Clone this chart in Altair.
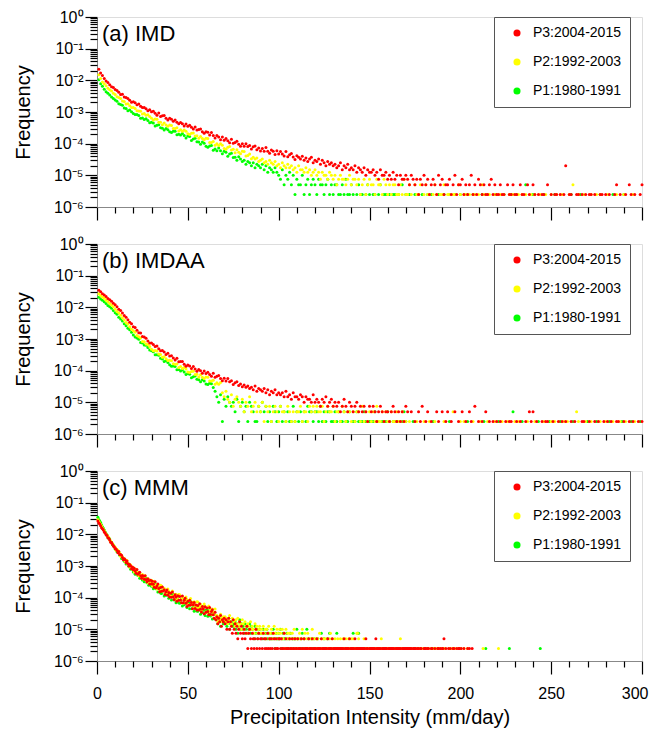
import altair as alt
import pandas as pd

# ---------------- data (log10 frequency for the smooth part, counts of the 2.5e-6 unit for the tail) -------------
LEVEL = 2.5e-6
periods = ["P3:2004-2015", "P2:1992-2003", "P1:1980-1991"]
colors = ["#ff0000", "#ffff00", "#00ff00"]

# ---- (a) IMD, 1 mm bins starting at 1 ----
imd_p3_dense = [-1.65,-1.77,-1.85,-1.94,-2.02,-2.07,-2.14,-2.20,-2.23,-2.29,
 -2.32,-2.38,-2.45,-2.44,-2.53,-2.54,-2.57,-2.63,-2.69,-2.68,
 -2.71,-2.77,-2.75,-2.82,-2.86,-2.86,-2.90,-2.96,-2.93,-2.99,
 -2.98,-3.04,-3.10,-3.03,-3.14,-3.12,-3.11,-3.20,-3.25,-3.20,
 -3.23,-3.29,-3.25,-3.32,-3.37,-3.33,-3.37,-3.44,-3.38,-3.45,
 -3.42,-3.48,-3.54,-3.47,-3.57,-3.55,-3.54,-3.62,-3.67,-3.62,
 -3.64,-3.73,-3.65,-3.74,-3.82,-3.74,-3.79,-3.88,-3.79,-3.89,
 -3.84,-3.91,-3.97,-3.86,-3.99,-3.96,-3.92,-4.02,-4.08,-4.00,
 -4.08,-4.00,-4.09,-4.06,-4.17,-4.10,-4.07,-4.19,-4.14,-4.23,
 -4.15,-4.24,-4.12,-4.24,-4.30,-4.20,-4.24,-4.34,-4.22,-4.33,
 -4.25,-4.33,-4.39,-4.25,-4.41,-4.35,-4.31,-4.42,-4.50,-4.38]
imd_p3_tail = [15,13,16,12,14,11,13,15,10,12, 11,13,9,12,10,8,11,9,10,8,
 9,7,8,10,6,8,7,9,6,7, 6,8,5,7,6,5,7,4,6,5, 5,6,4,5,3,6,4,4,5,3,
 4,3,5,3,4,2,4,3,3,4, 3,2,4,3,2,3,1,3,2,4, 2,3,1,2,3,2,1,4,2,3,
 1,2,2,3,1,2,4,1,2,2, 3,1,2,1,2,4,1,2,1,3, 2,1,2,1,1,2,3,1,2,1,
 1,2,1,1,0,2,1,1,2,1, 1,0,2,1,1,0,2,1,0,2, 1,0,1,0,1,1,0,2,0,1,
 0,1,1,0,1,0,1,8,0,1, 1,0,0,1,1,0,1,0,1,0, 1,1,0,1,0,0,1,1,0,1,
 0,1,0,0,1,2,0,1,0,0, 1,0,2,1,0,1,0,0,1,2]
imd_p2_dense = [-1.82,-1.94,-2.05,-2.11,-2.17,-2.25,-2.30,-2.34,-2.41,-2.45,
 -2.52,-2.54,-2.57,-2.65,-2.67,-2.75,-2.74,-2.80,-2.86,-2.86,
 -2.89,-2.96,-2.97,-2.98,-3.06,-3.05,-3.10,-3.09,-3.14,-3.20,
 -3.25,-3.22,-3.23,-3.32,-3.32,-3.40,-3.35,-3.41,-3.45,-3.41,
 -3.43,-3.52,-3.52,-3.50,-3.60,-3.56,-3.61,-3.57,-3.61,-3.69,
 -3.71,-3.67,-3.66,-3.76,-3.75,-3.83,-3.77,-3.84,-3.88,-3.83,
 -3.84,-3.96,-3.96,-3.93,-4.05,-4.00,-4.06,-4.00,-4.05,-4.15,
 -4.18,-4.11,-4.09,-4.20,-4.18,-4.29,-4.19,-4.27,-4.32,-4.24,
 -4.25,-4.39,-4.37,-4.33,-4.48]
imd_p2_tail = [15,13,14,11,12,13,10,11,9,12, 10,9,11,8,9,7,10,8,7,9,
 7,8,6,7,5,8,6,6,5,7, 5,6,4,5,6,4,5,3,5,4, 4,3,5,4,3,4,2,3,4,3,
 3,2,3,4,2,3,3,2,3,1, 2,3,1,2,3,2,2,1,3,2, 2,1,3,2,1,2,1,2,2,1,
 1,2,1,3,1,1,2,1,0,2, 1,1,2,0,1,2,1,1,0,1, 2,1,0,1,1,2,0,1,1,0,
 1,1,0,2,1,0,1,1,0,1, 0,1,1,0,1,0,2,1,0,1, 1,0,0,1,1,0,1,0,1,0,
 0,1,0,1,0,0,1,0,1,0, 1,0,0,1,0,1,0,0,1,0, 0,1,0,0,1,0,0,1,0,0,
 1,0,0,0,1,0,2,0,0,1, 0,0,1,0,0,0,1,0,0,1, 0,1,0,0,0,1,0,0,0,0,
 1,0,0,0,1,0,0,0,0,1, 0,0,0,0,0]
imd_p1_dense = [-1.98,-2.11,-2.19,-2.28,-2.36,-2.41,-2.46,-2.53,-2.57,-2.62,
 -2.66,-2.74,-2.76,-2.79,-2.87,-2.89,-2.96,-2.94,-2.99,-3.05,
 -3.08,-3.08,-3.11,-3.20,-3.19,-3.24,-3.21,-3.27,-3.34,-3.32,
 -3.35,-3.44,-3.42,-3.40,-3.50,-3.51,-3.57,-3.52,-3.56,-3.62,
 -3.65,-3.61,-3.61,-3.72,-3.70,-3.73,-3.68,-3.74,-3.82,-3.76,
 -3.77,-3.90,-3.85,-3.83,-3.94,-3.95,-4.02,-3.95,-3.99,-4.08,
 -4.11,-4.07,-4.06,-4.21,-4.17,-4.22,-4.14,-4.22,-4.32,-4.24,
 -4.27,-4.40,-4.33,-4.30,-4.44,-4.43,-4.52,-4.41]
imd_p1_tail = [13,11,12,9,11,10,8,10,7,9, 8,7,9,6,8,5,7,6,5,7,
 5,4,3,6,2,4,3,5,2,4, 1,3,2,2,4,1,2,3,1,2, 3,2,1,3,2,2,1,2,3,1,
 2,1,2,2,1,1,2,1,3,1, 1,2,1,0,1,2,1,1,0,1, 2,1,0,1,1,0,1,2,0,1,
 1,0,1,0,1,1,0,1,0,2, 0,1,0,1,0,0,1,0,1,0, 1,0,0,1,0,1,0,0,0,1,
 0,0,1,0,0,1,0,0,1,0, 0,1,0,0,0,1,0,0,1,0, 0,0,0,1,0,0,1,0,0,0,
 1,0,0,0,0,1,0,0,0,1, 0,0,1,0,0,0,0,2,0,0, 0,1,0,0,0,0,0,1,0,0,
 0,0,0,1,0,0,0,0,0,0, 0,0,1,0,0,0,0,1,0,0, 0,0,0,0,0,0,0,0,1,0,
 0,0,0,0,0,1,0,0,0,0, 0,1,0,0,0,0,0,0,0,0]

# ---- (b) IMDAA, 1 mm bins starting at 1 ----
imdaa_p3_dense = [-1.46,-1.51,-1.57,-1.61,-1.66,-1.72,-1.76,-1.81,-1.87,-1.92,
 -1.98,-2.06,-2.10,-2.18,-2.26,-2.31,-2.39,-2.47,-2.52,-2.61,
 -2.64,-2.72,-2.80,-2.81,-2.92,-2.94,-2.98,-3.06,-3.13,-3.13,
 -3.17,-3.24,-3.22,-3.31,-3.37,-3.36,-3.41,-3.49,-3.45,-3.54,
 -3.53,-3.60,-3.66,-3.61,-3.72,-3.71,-3.71,-3.80,-3.86,-3.82,
 -3.85,-3.93,-3.87,-3.95,-4.02,-3.96,-4.00,-4.08,-4.01,-4.09,
 -4.05,-4.12,-4.18,-4.08,-4.21,-4.18,-4.15,-4.25,-4.32,-4.24,
 -4.33,-4.25,-4.35,-4.32,-4.44,-4.38,-4.35,-4.47,-4.42,-4.51]
imdaa_p3_tail = [14,12,13,11,12,10,13,9,11,10, 9,11,8,10,7,9,8,10,7,8,
 7,8,6,9,6,7,5,8,6,6, 5,7,6,4,6,5,5,4,7,4, 5,4,3,5,4,6,3,4,5,3,
 4,3,4,2,3,5,3,2,4,3, 2,3,4,2,3,2,3,2,1,3, 2,3,2,1,2,3,2,1,2,2,
 1,2,3,2,1,2,1,2,1,3,
 2,0,2,0,1,0,2,1,3,0, 1,2,0,1,0,0,2,1,0,2, 0,1,2,0,1,0,2,0,1,0,
 2,0,1,0,2,1,0,3,0,1, 0,1,0,2,0,1,0,1,0,1, 0,1,0,0,1,0,1,1,0,0,
 1,0,1,0,0,1,0,2,1,2, 0,1,0,0,1,0,1,1,0,0, 1,0,0,1,0,1,0,1,0,0,
 1,0,1,0,0,0,1,1,0,0, 1,0,0,1,0,1,0,0,1,0, 1,0,1,0,0,1,1,0,0,1,
 0,0,1,0,1,0,0,1,0,1]
imdaa_p2_dense = [-1.57,-1.63,-1.67,-1.71,-1.78,-1.82,-1.88,-1.93,-1.98,-2.06,
 -2.13,-2.18,-2.25,-2.33,-2.40,-2.48,-2.53,-2.61,-2.69,-2.74,
 -2.79,-2.89,-2.93,-2.97,-3.08,-3.09,-3.16,-3.17,-3.24,-3.32,
 -3.37,-3.36,-3.38,-3.47,-3.49,-3.58,-3.56,-3.62,-3.68,-3.67,
 -3.69,-3.78,-3.80,-3.79,-3.90,-3.87,-3.93,-3.90,-3.95,-4.04,
 -4.06,-4.03,-4.02,-4.12,-4.11,-4.20,-4.13,-4.21,-4.25,-4.20,
 -4.21,-4.33,-4.33,-4.30,-4.43,-4.38,-4.43,-4.37]
imdaa_p2_tail = [8,6,9,5,4,7,3,5,6,4, 3,5,2,4,3,6,2,3,4,2,
 3,2,4,1,3,2,3,1,2,3, 2,1,3,2,2,1,3,2,1,2, 1,2,2,3,1,2,2,1,3,2,
 3,2,3,2,2,3,1,2,3,2, 2,3,1,2,2,1,3,2,1,2, 2,1,2,1,2,2,1,3,1,2,
 1,2,1,2,1,3,1,1,2,1, 2,1,1,2,1,1,2,1,1,2, 1,1,
 0,1,0,0,0,1,0,0,0,1, 0,0,1,0,0,1,0,0,0,0, 1,0,0,0,0,2,0,0,0,1,
 0,1,0,0,0,0,1,0,0,0, 1,0,0,0,1,0,0,0,1,0, 0,0,1,0,0,1,0,0,0,1,
 0,1,0,0,0,0,1,0,0,0, 1,0,0,0,0,1,0,0,0,1, 0,1,0,0,0,0,1,0,1,0,
 0,0,0,2,1,0,0,0,1,0, 0,1,0,0,0,0,1,0,0,1, 0,0,0,1,0,0,0,1,0,0,
 1,0,0,0,0,1,0,0,0,0]
imdaa_p1_dense = [-1.68,-1.74,-1.78,-1.82,-1.88,-1.94,-1.98,-2.03,-2.10,-2.17,
 -2.22,-2.31,-2.37,-2.43,-2.52,-2.58,-2.66,-2.71,-2.79,-2.87,
 -2.94,-2.97,-3.01,-3.11,-3.13,-3.19,-3.20,-3.27,-3.35,-3.37,
 -3.40,-3.50,-3.50,-3.51,-3.61,-3.63,-3.71,-3.69,-3.74,-3.81,
 -3.86,-3.85,-3.87,-3.97,-3.96,-4.01,-3.98,-4.04,-4.12,-4.09,
 -4.11,-4.22,-4.19,-4.17,-4.27,-4.29,-4.35,-4.29,-4.33,-4.42,
 -4.44,-4.40,-4.41,-4.53]
imdaa_p1_tail = [9,6,4,7,1,5,3,6,4,3, 4,2,5,1,3,4,2,3,1,4,
 3,2,1,1,3,2,4,2,3,1, 2,1,3,2,1,2,3,1,2,1, 2,1,1,3,1,2,1,2,1,2,
 1,3,2,2,1,2,2,1,3,1, 2,1,2,2,1,1,2,1,2,1, 1,2,1,1,2,0,1,1,2,1,
 1,1,2,1,0,1,1,1,2,1, 1,0,1,1,1,2,1,0,1,1, 1,1,0,1,2,1,
 0,0,0,1,0,0,0,0,0,0, 0,0,0,0,1,0,0,0,0,0, 0,0,0,1,0,0,0,0,0,0,
 0,0,0,1,0,0,0,0,0,0, 0,0,1,0,0,0,0,0,0,0, 1,0,0,0,0,0,0,0,2,0,
 0,0,0,1,0,0,0,0,0,0, 0,0,1,0,0,0,0,0,1,0, 0,0,0,0,1,0,0,0,0,0,
 0,1,0,0,0,0,0,0,0,1, 0,0,0,0,1,0,0,0,0,0, 0,1,0,0,0,0,0,0,1,0,
 0,0,0,1,0,0,0,0,1,0]

# ---- (c) MMM, 0.5 mm bins starting at 0.5 ----
mmm_p3_dense = [-1.58,-1.64,-1.67,-1.73,-1.79,-1.82,-1.86,-1.93,-1.96,-2.01,
 -2.04,-2.11,-2.12,-2.18,-2.25,-2.26,-2.31,-2.37,-2.39,-2.45,
 -2.46,-2.51,-2.58,-2.54,-2.64,-2.64,-2.66,-2.73,-2.80,-2.77,
 -2.80,-2.89,-2.84,-2.93,-3.00,-2.95,-3.00,-3.09,-3.03,-3.12,
 -3.07,-3.16,-3.23,-3.11,-3.26,-3.22,-3.20,-3.31,-3.39,-3.30,
 -3.32,-3.42,-3.31,-3.43,-3.50,-3.40,-3.46,-3.57,-3.45,-3.57,
 -3.48,-3.58,-3.67,-3.50,-3.69,-3.63,-3.57,-3.71,-3.81,-3.68,
 -3.80,-3.66,-3.79,-3.75,-3.90,-3.81,-3.76,-3.92,-3.84,-3.98,
 -3.86,-3.99,-3.82,-3.97,-4.06,-3.91,-3.98,-4.11,-3.94,-4.08,
 -3.96,-4.07,-4.16,-3.95,-4.16,-4.08,-4.02,-4.18,-4.28,-4.11,
 -4.24,-4.08,-4.23,-4.15,-4.35,-4.22,-4.15,-4.34,-4.23,-4.39,
 -4.25,-4.39,-4.19,-4.36,-4.45,-4.28,-4.36,-4.51,-4.29,-4.46,
 -4.33,-4.44,-4.54,-4.31,-4.53,-4.44,-4.38,-4.54,-4.65,-4.46]
mmm_p3_tail = [8,10,6,9,7,11,5,8,7,9, 6,8,4,7,9,4,7,5,3,8,
 4,6,3,5,2,4,7,3,5,2, 3,4,2,3,5,1,3,4,2,1, 3,2,1,2,4,1,2,3,1,2,
 2,1,3,2,1,2,1,3,1,2, 1,2,1,3,2,1,2,1,1,2, 2,1,2,1,1,3,1,2,1,1,
 1,2,1,1,2,1,1,2,1,1, 2,1,1,1,2,1,1,2,1,1, 1,1,2,1,1,1,2,1,1,1,
 1,2,1,1,1,1,2,1,1,1, 1,1,1,2,1,1,1,1,2,1, 1,1,1,1,1,1,1,1,1,1,
 1,2,1,1,1,1,1,2,1,1, 1,1,1,2,1,1,1,1,1,1, 1,1,1,1,1,2,1,1,0,1,
 1,1,1,1,1,1,2,1,1,1, 1,1,0,1,1,1,1,1,1,0, 1,1,1,1,1,1,1,0,1,1,
 1,1,1,1,0,1,1,1,1,1, 1,1,1,1,1,1,0,1,1,1, 1,0,1,1,0,1,1,0,0,1,
 1,1,0,1,1,0,0,1,1,0, 0,1,0,0,1,1,0,1,0,1, 1,2,0,1,0,0,1,0,1,0,
 0,1,1,0,0,1,0,1,1,0, 1,0,0,1,0,0,0,1,0,1, 0,0,1,0,0,0,0,0,0,0]
mmm_p2_dense = [-1.54,-1.59,-1.65,-1.69,-1.74,-1.80,-1.84,-1.89,-1.95,-1.99,
 -2.04,-2.07,-2.10,-2.17,-2.21,-2.27,-2.29,-2.34,-2.40,-2.41,
 -2.50,-2.48,-2.50,-2.58,-2.60,-2.69,-2.66,-2.72,-2.77,-2.76,
 -2.86,-2.83,-2.83,-2.93,-2.93,-3.03,-2.97,-3.05,-3.10,-3.05,
 -3.18,-3.12,-3.10,-3.21,-3.20,-3.31,-3.21,-3.30,-3.35,-3.27,
 -3.41,-3.33,-3.31,-3.44,-3.41,-3.53,-3.41,-3.49,-3.55,-3.45,
 -3.62,-3.52,-3.48,-3.62,-3.59,-3.73,-3.58,-3.68,-3.74,-3.61,
 -3.63,-3.79,-3.76,-3.70,-3.88,-3.78,-3.84,-3.73,-3.80,-3.94,
 -3.95,-3.84,-3.79,-3.96,-3.91,-4.05,-3.89,-3.98,-4.05,-3.90,
 -3.91,-4.09,-4.05,-3.97,-4.18,-4.04,-4.12,-3.98,-4.06,-4.21,
 -4.23,-4.09,-4.03,-4.21,-4.15,-4.32,-4.13,-4.23,-4.30,-4.13,
 -4.14,-4.33,-4.29,-4.21,-4.43,-4.28,-4.36,-4.20,-4.28,-4.45,
 -4.46,-4.32,-4.26,-4.44,-4.38,-4.55,-4.36,-4.46,-4.53,-4.36]
mmm_p2_tail = [9,11,7,10,8,12,9,7,10,8, 10,7,9,6,8,11,7,6,9,8,
 7,5,8,6,9,5,7,6,4,8, 6,4,7,5,3,6,5,4,7,4, 5,4,3,6,4,5,3,4,5,3,
 4,3,5,3,4,2,4,3,5,2, 3,4,2,3,5,3,2,4,3,2, 4,3,2,4,2,3,1,4,2,3,
 2,3,2,1,3,2,4,2,1,2, 2,1,3,2,2,4,1,2,3,1, 2,3,1,2,1,2,4,2,1,2,
 1,2,2,1,3,1,2,1,2,1, 2,1,2,1,1,2,3,1,2,1, 1,2,1,1,2,1,1,2,1,1,
 2,1,1,2,1,1,2,1,1,2, 1,2,1,1,1,3,3,2,1,1, 1,1,1,2,1,1,1,0,1,1,
 1,1,0,1,1,1,1,0,1,1, 1,1,2,1,0,1,1,0,1,1, 1,0,1,1,1,0,1,1,0,1,
 1,1,0,2,1,0,1,1,0,1, 0,1,1,0,1,1,0,0,1,0, 1,0,0,1,0,1,0,0,1,0,
 0,1,0,0,1,0,0,1,0,0, 1,0,1,0,0,1,1,0,0,1, 0,0,1,0,0,0,0,1,0,0,
 1,0,0,1,0,0,0,1,0,1, 0,0,0,1,0,0,0,1,0,0, 0,0,0,0,0,0,0,0,0,0,
 0,0,0,0,1,0,0,0,0,0, 0,0,0,0,0,0,0,0,0,0, 0,1]
mmm_p1_dense = [-1.46,-1.53,-1.58,-1.63,-1.70,-1.76,-1.81,-1.86,-1.93,-1.98,
 -2.02,-2.09,-2.12,-2.15,-2.22,-2.26,-2.33,-2.34,-2.39,-2.46,
 -2.47,-2.55,-2.55,-2.56,-2.66,-2.68,-2.76,-2.73,-2.78,-2.85,
 -2.83,-2.94,-2.92,-2.91,-3.01,-3.03,-3.10,-3.05,-3.10,-3.19,
 -3.13,-3.26,-3.20,-3.18,-3.30,-3.30,-3.39,-3.29,-3.35,-3.44,
 -3.36,-3.50,-3.43,-3.39,-3.53,-3.52,-3.61,-3.50,-3.54,-3.64,
 -3.56,-3.72,-3.63,-3.56,-3.72,-3.71,-3.82,-3.67,-3.73,-3.85,
 -3.87,-3.78,-3.76,-3.95,-3.87,-3.92,-3.80,-3.89,-4.02,-3.89,
 -3.90,-4.07,-3.97,-3.89,-4.07,-4.04,-4.16,-3.99,-4.04,-4.16,
 -4.18,-4.08,-4.05,-4.26,-4.17,-4.22,-4.06,-4.16,-4.31,-4.16,
 -4.16,-4.35,-4.23,-4.14,-4.34,-4.30,-4.43,-4.23,-4.29,-4.42,
 -4.43,-4.32,-4.30,-4.52,-4.41,-4.47,-4.29,-4.40,-4.56,-4.39,
 -4.40,-4.59,-4.47,-4.38,-4.58,-4.54,-4.67,-4.47,-4.53,-4.66]
mmm_p1_tail = [8,10,6,9,7,5,9,8,6,7, 6,8,5,7,9,4,6,7,5,6,
 5,7,4,6,3,5,8,4,6,4, 5,3,6,4,5,3,4,6,3,5, 4,3,2,5,3,4,2,3,4,3,
 3,2,4,3,2,3,4,2,3,2, 2,3,2,4,2,1,3,2,2,3, 2,4,1,2,3,2,2,1,3,2,
 1,2,3,1,2,1,2,2,1,4, 2,1,1,2,1,3,1,2,1,1, 4,1,2,1,1,2,1,1,2,1,
 1,1,2,1,1,1,3,1,1,2, 1,1,1,2,1,3,1,1,1,1, 1,0,1,3,1,1,0,1,1,1,
 1,1,0,1,1,1,1,0,1,1, 1,3,1,0,1,1,3,3,1,0, 1,1,0,1,1,0,1,1,0,1,
 0,1,1,0,1,0,1,1,0,0, 1,0,1,0,0,1,0,1,0,0, 0,1,0,0,1,0,0,1,0,0,
 1,0,0,0,1,0,0,0,1,0, 0,1,0,0,0,1,0,0,0,1, 0,0,0,1,0,0,0,0,0,0,
 0,0,1,0,0,0,0,0,0,1, 0,0,0,0,0,0,1,0,0,0, 0,0,0,0,0,0,0,0,0,0,
 0,0,0,0,0,0,0,0,0,1, 0,0,0,0,0,0,0,0,0,0, 0,0,0,0,0,0,0,0,0,0,
 0,0,0,0,0,0,0,1,0,0, 0,0,0,0,0,0,0,0,0,0, 0,0,0,0,0,0,0,0,0,0,
 0,0,0,1,0,0,0,0,0,0, 0,0,0,0,0,0,0,0,0,0, 0,0,0,0,0,0,0,0,0,0,
 0,0,0,0,0,0,0,1]

# panel -> label, bin start, bin width, series in drawing order (P1, P2, P3)
panels = [
    ("(a) IMD", 1.0, 1.0, [(periods[2], imd_p1_dense, imd_p1_tail),
                           (periods[1], imd_p2_dense, imd_p2_tail),
                           (periods[0], imd_p3_dense, imd_p3_tail)]),
    ("(b) IMDAA", 1.0, 1.0, [(periods[2], imdaa_p1_dense, imdaa_p1_tail),
                             (periods[1], imdaa_p2_dense, imdaa_p2_tail),
                             (periods[0], imdaa_p3_dense, imdaa_p3_tail)]),
    ("(c) MMM", 0.5, 0.5, [(periods[2], mmm_p1_dense, mmm_p1_tail),
                           (periods[1], mmm_p2_dense, mmm_p2_tail),
                           (periods[0], mmm_p3_dense, mmm_p3_tail)]),
]


def panel_frame(series, start, step):
    rows = []
    for period, dense, tail in series:
        for i, v in enumerate(dense):
            rows.append({"period": period, "x": start + i * step, "freq": 10 ** v})
        t0 = start + len(dense) * step
        for i, k in enumerate(tail):
            if k > 0:
                rows.append({"period": period, "x": t0 + i * step, "freq": k * LEVEL})
    return pd.DataFrame(rows)


# ---------------- axes ----------------
FONT = "Liberation Sans"
sup = {0: "\u2070", -1: "\u207b\u00b9", -2: "\u207b\u00b2", -3: "\u207b\u00b3",
       -4: "\u207b\u2074", -5: "\u207b\u2075", -6: "\u207b\u2076"}
y_major = [10.0 ** e for e in range(-6, 1)]
y_minor = [m * 10.0 ** e for e in range(-6, 0) for m in range(2, 10)]
E = "round(log(datum.value)/LN10)"
y_label_expr = " : ".join("{} == {} ? '10{}'".format(E, k, v) for k, v in sup.items()) + " : ''"
x_major = list(range(0, 301, 50))
x_minor = [v for v in range(0, 301, 10) if v % 50 != 0]

TICK = dict(ticks=True, tickColor="#000000", tickOpacity=1, tickWidth=1.2, tickCap="butt")
LAST = "datum.value == 300"


def make_panel(label, df, bottom):
    xs = alt.Scale(domain=[0, 300], nice=False)
    ys = alt.Scale(type="log", domain=[1e-6, 1], nice=False)
    y_axis = alt.Axis(values=y_major, labelExpr=y_label_expr, labelOverlap=False,
                      labelFlush=False, labelFontSize=16, labelFont=FONT, labelPadding=2,
                      tickSize=12, orient="left",
                      title="Frequency", titleFontSize=20, titleFont=FONT,
                      titleFontWeight="normal", titlePadding=20, grid=False, **TICK)
    y_minor_axis = alt.Axis(values=y_minor, labels=False, tickSize=7, domain=False,
                            orient="left", title=None, grid=False, **TICK)
    if bottom:
        x_axis = alt.Axis(values=x_major, labelOverlap=False, labelFlush=False,
                          labelAlign={"condition": {"test": LAST, "value": "right"}, "value": "center"},
                          labelOffset={"condition": {"test": LAST, "value": 6}, "value": 0},
                          labelFontSize=16, labelFont=FONT, labelPadding=11, tickSize=13,
                          orient="bottom",
                          title="Precipitation Intensity (mm/day)", titleFontSize=20,
                          titleFont=FONT, titleFontWeight="normal", titlePadding=6,
                          grid=False, **TICK)
    else:
        x_axis = alt.Axis(values=x_major, labels=False, title=None, tickSize=13,
                          orient="bottom", grid=False, **TICK)
    x_minor_axis = alt.Axis(values=x_minor, labels=False, tickSize=6, domain=False,
                            orient="bottom", title=None, grid=False, **TICK)
    pts = alt.Chart(df).mark_circle(size=9, opacity=1, stroke=None).encode(
        x=alt.X("x:Q", scale=xs, axis=x_axis),
        y=alt.Y("freq:Q", scale=ys, axis=y_axis),
        color=alt.Color("period:N", scale=alt.Scale(domain=periods, range=colors),
                        legend=alt.Legend(title=None, orient="none", legendX=397, legendY=0,
                                          strokeColor="#555555", padding=9, rowPadding=15,
                                          symbolType="circle", symbolSize=50, symbolOffset=7,
                                          labelOffset=9, labelFontSize=14, labelFont=FONT,
                                          symbolStrokeWidth=0)),
    )
    minor = alt.Chart(df.head(1)).mark_circle(opacity=0).encode(
        x=alt.X("x:Q", scale=xs, axis=x_minor_axis),
        y=alt.Y("freq:Q", scale=ys, axis=y_minor_axis),
    )
    lab = alt.Chart(pd.DataFrame({"x": [0], "y": [0.175], "t": [label]})).mark_text(
        align="left", baseline="alphabetic", dx=5, fontSize=22, font=FONT, color="black"
    ).encode(x=alt.X("x:Q", scale=xs, axis=None), y=alt.Y("y:Q", scale=ys, axis=None), text="t:N")
    return alt.layer(pts, minor, lab).resolve_axis(x="independent", y="independent").properties(
        width=545, height=190)


charts = [make_panel(lbl, panel_frame(series, start, step), i == 2)
          for i, (lbl, start, step, series) in enumerate(panels)]

chart = alt.vconcat(*charts, spacing=37, bounds="flush").resolve_legend(
    color="independent"
).properties(
    padding={"left": 4, "top": 0, "right": 0, "bottom": 0}
).configure_view(stroke="black", strokeWidth=1.3).configure_axis(
    domainColor="black", labelColor="black", titleColor="black", domainWidth=1.3
).configure(font=FONT)

chart.save("out.html", embed_options={"renderer": "svg", "actions": False})
